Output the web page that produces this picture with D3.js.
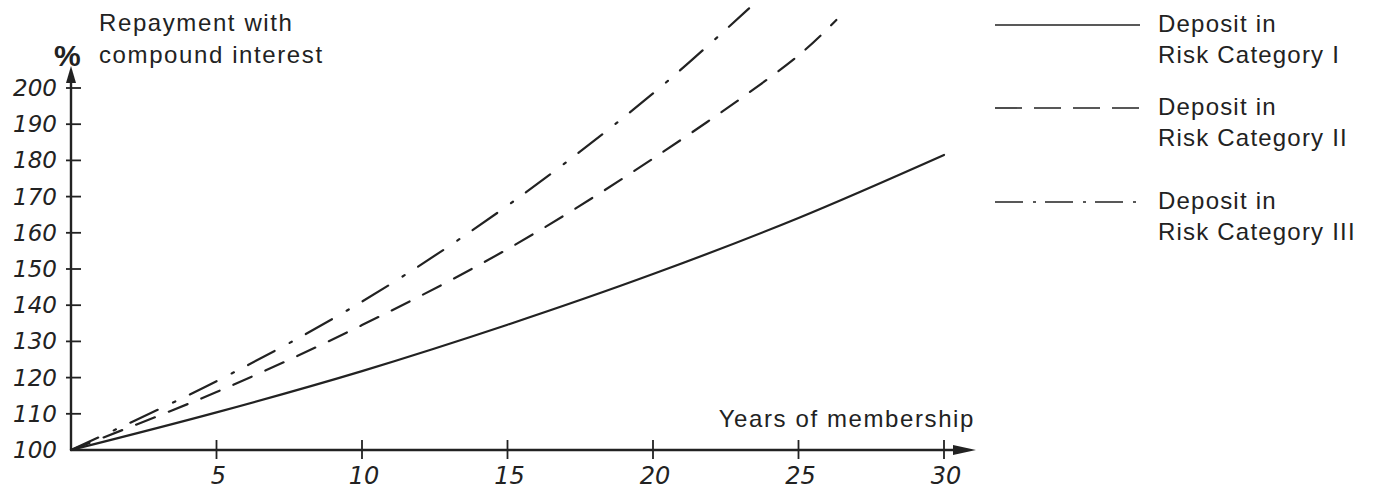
<!DOCTYPE html>
<html>
<head>
<meta charset="utf-8">
<script src="https://cdn.jsdelivr.net/npm/d3@7/dist/d3.min.js"></script>
<style>
  html, body { margin: 0; padding: 0; background: #ffffff; }
  svg { display: block; }
  .sans { font-family: "Liberation Sans", Arial, sans-serif; fill: #222; }
  .hand { font-family: "DejaVu Sans", sans-serif; font-style: italic; fill: #222; }
</style>
</head>
<body>
<script>
// ---- data ----
const yTicks = [100, 110, 120, 130, 140, 150, 160, 170, 180, 190, 200];
const xTicks = [5, 10, 15, 20, 25, 30];

const yearsI   = [0, 5, 10, 15, 20, 25, 30];
const valuesI  = [100, 110.4, 121.8, 134.6, 148.6, 164.1, 181.5];

const yearsII  = [0, 5, 10, 15, 20, 25, 26.3];
const valuesII = [100, 116, 134.5, 155.5, 180.5, 209, 218.8];

const yearsIII  = [0, 5, 10, 15, 20, 23.3];
const valuesIII = [100, 119, 141, 167.5, 198.5, 222];

const legendLabels = [
  ["Deposit in", "Risk Category I"],
  ["Deposit in", "Risk Category II"],
  ["Deposit in", "Risk Category III"]
];

const W = 1386, H = 492;
const svg = d3.select("body").append("svg").attr("width", W).attr("height", H);

const x = d3.scaleLinear().domain([0, 30]).range([71, 944]);
const y = d3.scaleLinear().domain([100, 200]).range([450, 88]);

const ink = "#222";

// ---- axes ----
svg.append("line").attr("x1", x(0)).attr("x2", x(0)).attr("y1", y(100)).attr("y2", 75)
  .attr("stroke", ink).attr("stroke-width", 2.4);
svg.append("path").attr("d", `M${x(0)},66 L${x(0)-5},83 L${x(0)+5},83 Z`).attr("fill", ink);

svg.append("line").attr("x1", x(0)).attr("x2", 960).attr("y1", y(100)).attr("y2", y(100))
  .attr("stroke", ink).attr("stroke-width", 2.4);
svg.append("path").attr("d", `M976,${y(100)} L953,${y(100)-5} L953,${y(100)+5} Z`).attr("fill", ink);

// y ticks
const gy = svg.append("g");
gy.selectAll("line").data(yTicks.filter(d => d !== 100)).enter().append("line")
  .attr("x1", x(0) - 5).attr("x2", x(0) + 10)
  .attr("y1", d => y(d)).attr("y2", d => y(d))
  .attr("stroke", ink).attr("stroke-width", 1.8);
gy.selectAll("text").data(yTicks).enter().append("text")
  .attr("class", "hand")
  .attr("x", 57).attr("y", d => y(d) + 8)
  .attr("text-anchor", "end")
  .attr("font-size", 23)
  .text(d => d);

// x ticks
const gx = svg.append("g");
gx.selectAll("line").data(xTicks).enter().append("line")
  .attr("x1", d => x(d)).attr("x2", d => x(d))
  .attr("y1", y(100) - 10).attr("y2", y(100) + 9)
  .attr("stroke", ink).attr("stroke-width", 1.8);
gx.selectAll("text").data(xTicks).enter().append("text")
  .attr("class", "hand")
  .attr("x", d => x(d) + 2).attr("y", 484)
  .attr("text-anchor", "middle")
  .attr("font-size", 24)
  .text(d => d);

// axis titles
svg.append("text").attr("class", "sans").attr("x", 99).attr("y", 31)
  .attr("font-size", 24).attr("letter-spacing", 1.6).text("Repayment with");
svg.append("text").attr("class", "sans").attr("x", 99).attr("y", 63)
  .attr("font-size", 24).attr("letter-spacing", 1.6).text("compound interest");
svg.append("text").attr("class", "sans").attr("x", 54).attr("y", 66)
  .attr("font-size", 30).attr("font-weight", "bold").text("%");
svg.append("text").attr("class", "sans").attr("x", 975).attr("y", 427)
  .attr("text-anchor", "end")
  .attr("font-size", 24).attr("letter-spacing", 1.6).text("Years of membership");

// ---- series ----
const line = d3.line().x(d => x(d[0])).y(d => y(d[1])).curve(d3.curveCatmullRom);

const series = [
  { pts: d3.zip(yearsI, valuesI), dash: null },
  { pts: d3.zip(yearsII, valuesII), dash: "20,15" },
  { pts: d3.zip(yearsIII, valuesIII), dash: "30,17,2.5,16" }
];

series.forEach(s => {
  svg.append("path").attr("d", line(s.pts))
    .attr("fill", "none").attr("stroke", ink).attr("stroke-width", 2.2)
    .attr("stroke-linecap", "round")
    .attr("stroke-dasharray", s.dash);
});

// ---- legend ----
const legY = [25, 108, 202];
const legDash = [null, "27,12", "28,10,3,9"];
legendLabels.forEach((lab, i) => {
  svg.append("line").attr("x1", 995).attr("x2", 1140)
    .attr("y1", legY[i]).attr("y2", legY[i])
    .attr("stroke", ink).attr("stroke-width", 1.6)
    .attr("stroke-dasharray", legDash[i]);
  svg.append("text").attr("class", "sans").attr("x", 1158).attr("y", legY[i] + 7)
    .attr("font-size", 24).attr("letter-spacing", 1.2).text(lab[0]);
  svg.append("text").attr("class", "sans").attr("x", 1158).attr("y", legY[i] + 38)
    .attr("font-size", 24).attr("letter-spacing", 1.2).text(lab[1]);
});
</script>
</body>
</html>
